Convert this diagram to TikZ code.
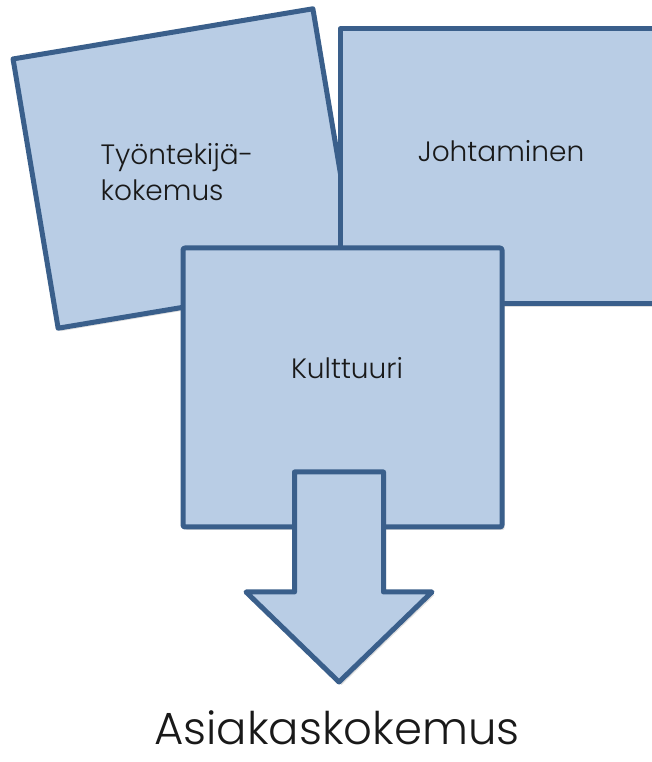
\documentclass[tikz,border=0pt]{standalone}
\usepackage{fontspec}
\setmainfont{Poppins}[UprightFont=* Light]
\usetikzlibrary{shadows}
\definecolor{laatikko}{HTML}{B9CDE5}
\definecolor{reuna}{HTML}{3A5F8B}
\tikzset{
	laatikko/.style={draw=reuna, fill=laatikko, line width=5pt, line join=round,
		drop shadow={opacity=0.25, shadow xshift=2.5pt, shadow yshift=-3pt}},
	teksti/.style={font=\fontsize{28}{36}\selectfont, text=black!90}
}
\begin{document}
\begin{tikzpicture}[x=1pt,y=1pt]
		\useasboundingbox (0,0) rectangle (652,762);

		\node[laatikko, rotate=9.5, minimum width=304pt, minimum height=273pt] (tyontekija) at (185.5,593.5) {};
		\node[laatikko, minimum width=322pt, minimum height=275pt] (johtaminen) at (501,595.5) {};
		\node[laatikko, rounded corners=2pt, minimum width=319pt, minimum height=279pt] (kulttuuri) at (342.5,374.5) {};

		% nuoli alaspäin
		\draw[laatikko] (294.5,290) -- (383.5,290) -- (383.5,170) -- (432,170)
			-- (339,80) -- (246,170) -- (294.5,170) -- cycle;

		\node[teksti, align=left] (t1) at (177,590) {Työntekijä-\\kokemus};
		\node[teksti] (t2) at (501,611) {Johtaminen};
		\node[teksti] (t3) at (347,394) {Kulttuuri};
		\node[teksti, font=\fontsize{45}{50}\selectfont, anchor=base, inner sep=0pt] (asiakas) at (337,17) {Asiakaskokemus};
	\end{tikzpicture}
\end{document}
